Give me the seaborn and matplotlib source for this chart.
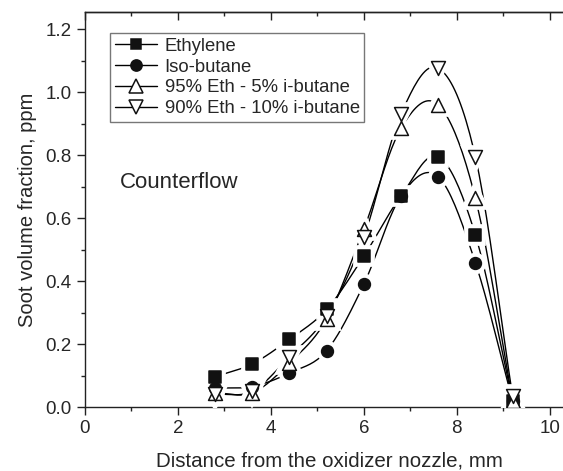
import numpy as np
import pandas as pd
import matplotlib.pyplot as plt
from matplotlib.lines import Line2D
from matplotlib.ticker import MultipleLocator
import seaborn as sns

# soot volume fraction (ppm) vs distance from oxidizer nozzle (mm)
distance = [2.8, 3.6, 4.4, 5.2, 6.0, 6.8, 7.6, 8.4, 9.2]
ethylene = [0.096, 0.137, 0.215, 0.310, 0.479, 0.670, 0.795, 0.546, 0.020]
isobutane = [0.060, 0.065, 0.108, 0.179, 0.390, 0.670, 0.731, 0.458, 0.020]
eth95 = [0.045, 0.045, 0.140, 0.280, 0.565, 0.885, 0.959, 0.663, 0.020]
eth90 = [0.040, 0.050, 0.160, 0.290, 0.540, 0.930, 1.076, 0.794, 0.035]
names = ['Ethylene', 'Iso-butane', '95% Eth - 5% i-butane', '90% Eth - 10% i-butane']
series = [ethylene, isobutane, eth95, eth90]
markers = ['s', 'o', '^', 'v']
filled = [True, True, False, False]
msizes = [8, 8.5, 10, 10]

sns.set_style("ticks")
plt.rcParams['font.family'] = ['Liberation Sans', 'DejaVu Sans']
plt.rcParams['axes.edgecolor'] = '#222222'
plt.rcParams['axes.linewidth'] = 1.0


def smooth(x, y, n=20):
    # catmull-rom curve through the points, only for drawing the line
    x = np.asarray(x, float)
    y = np.asarray(y, float)
    px = np.concatenate([[2 * x[0] - x[1]], x, [2 * x[-1] - x[-2]]])
    py = np.concatenate([[2 * y[0] - y[1]], y, [2 * y[-1] - y[-2]]])
    xs, ys = [], []
    t = np.linspace(0, 1, n, endpoint=False)
    for i in range(1, len(px) - 2):
        for p, out in ((px, xs), (py, ys)):
            p0, p1, p2, p3 = p[i - 1], p[i], p[i + 1], p[i + 2]
            out.extend(0.5 * (2 * p1 + (-p0 + p2) * t + (2 * p0 - 5 * p1 + 4 * p2 - p3) * t ** 2
                              + (-p0 + 3 * p1 - 3 * p2 + p3) * t ** 3))
    xs.append(x[-1])
    ys.append(y[-1])
    return np.array(xs), np.array(ys)


fig = plt.figure(figsize=(5.63, 4.71), dpi=100)
ax = fig.add_axes([85 / 563, 64 / 471, 488 / 563, 395 / 471])

# lines
for vals in series:
    cx, cy = smooth(distance, vals)
    sns.lineplot(x=cx, y=cy, ax=ax, color='black', lw=1.0, sort=False, estimator=None)

# white halos leave a gap between the line and the symbol
for vals, m, ms in zip(series, markers, msizes):
    ax.plot(distance, vals, ls='none', marker=m, ms=ms, mfc='white', mec='white', mew=7, zorder=3)

for vals, m, ms, f in zip(series, markers, msizes, filled):
    df = pd.DataFrame({'x': distance, 'y': vals})
    sns.scatterplot(data=df, x='x', y='y', ax=ax, marker=m, s=ms ** 2,
                    facecolor='#111111' if f else 'white', edgecolor='#111111',
                    linewidth=1.1, zorder=4)

ax.set_xlim(0, 10.5)
ax.set_ylim(0, 1.254)
ax.xaxis.set_major_locator(MultipleLocator(2))
ax.xaxis.set_minor_locator(MultipleLocator(1))
ax.yaxis.set_major_locator(MultipleLocator(0.2))
ax.yaxis.set_minor_locator(MultipleLocator(0.1))
ax.yaxis.set_major_formatter(plt.FormatStrFormatter('%.1f'))
ax.tick_params(which='major', direction='out', length=6, width=1.0, labelsize=13.5, color='#222222')
ax.tick_params(which='minor', direction='out', length=3, width=1.0, color='#222222')
top = ax.secondary_xaxis('top')
top.xaxis.set_major_locator(MultipleLocator(2))
top.xaxis.set_minor_locator(MultipleLocator(1))
top.tick_params(which='major', direction='in', length=6, width=1.0, labeltop=False, color='#222222')
top.tick_params(which='minor', direction='in', length=3, width=1.0, color='#222222')

ax.set_xlabel('Distance from the oxidizer nozzle, mm', fontsize=14.8, labelpad=10)
ax.set_ylabel('Soot volume fraction, ppm', fontsize=14.5, labelpad=6)
ax.text(0.75, 0.714, 'Counterflow', fontsize=16, va='center', ha='left')

handles = [Line2D([], [], color='black', lw=1.0, marker=m, ms=ms * 0.95,
                  mfc='#111111' if f else 'white', mec='#111111', mew=1.1)
           for m, ms, f in zip(markers, msizes, filled)]
leg = ax.legend(handles, names, loc='upper left', bbox_to_anchor=(0.04, 0.96),
                fontsize=13.3, frameon=True, fancybox=False, handlelength=2.3,
                handletextpad=0.4, labelspacing=0.2, borderpad=0.25, borderaxespad=0.3)
leg.get_frame().set_edgecolor('#555555')
leg.get_frame().set_linewidth(1.0)

fig.savefig('out.png', dpi=100)
